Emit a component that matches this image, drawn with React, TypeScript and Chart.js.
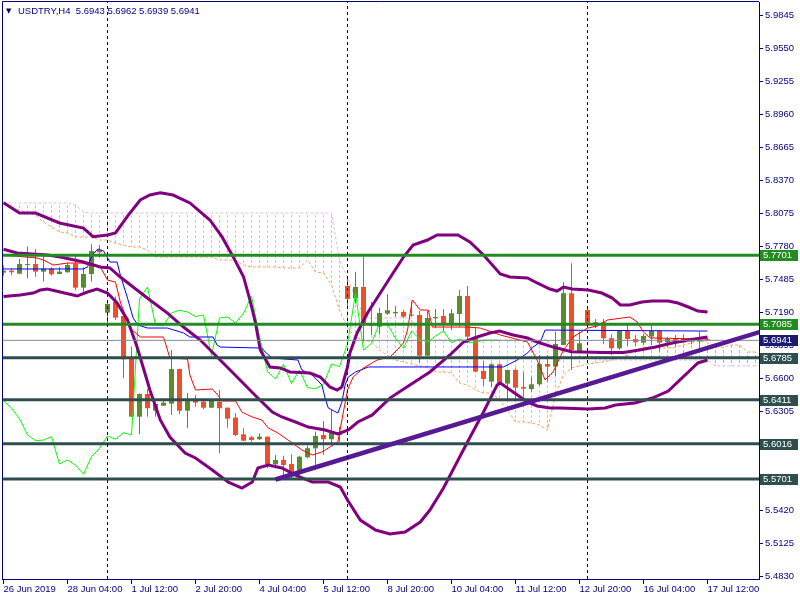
import React, { useEffect, useRef } from "react";
import { Chart, registerables } from "chart.js";

Chart.register(...registerables);

// ---------------- data ----------------
const symbolName = "USDTRY,H4";
const lastOHLC = ["5.6943", "5.6962", "5.6939", "5.6941"];

const openP = [5.7546,5.7564,5.7537,5.7615,5.7624,5.7555,5.7582,5.7534,5.7550,5.7627,
5.7412,5.7534,5.7749,5.7189,5.7284,5.7159,5.6781,5.6259,5.6462,5.6312,
5.6357,5.6375,5.6685,5.6312,5.6417,5.6393,5.6339,5.6393,5.6339,5.6250,
5.6101,5.6075,5.6057,5.6080,5.5833,5.5872,5.5836,5.5753,5.5896,5.5976,
5.6095,5.6057,5.6116,5.7427,5.7317,5.7418,5.7085,5.7063,5.7180,5.7183,
5.7195,5.7162,5.7168,5.6804,5.7138,5.7159,5.7085,5.7177,5.7338,5.6974,
5.6667,5.6572,5.6727,5.6554,5.6676,5.6524,5.6506,5.6548,5.6730,5.6706,
5.6900,5.7362,5.6846,5.7213,5.7103,5.7103,5.6960,5.6870,5.7025,5.6953,
5.6920,5.6974,5.7025,5.6924,5.6953,5.6953,5.6930,5.6930,5.6943];

const highP = [5.7609,5.7585,5.7669,5.7779,5.7758,5.7693,5.7594,5.7597,5.7639,5.7698,
5.7594,5.7800,5.7794,5.7302,5.7332,5.7165,5.6885,5.6465,5.6506,5.6375,
5.6414,5.6855,5.6688,5.6471,5.6453,5.6406,5.6414,5.6497,5.6341,5.6289,
5.6155,5.6086,5.6110,5.6082,5.5916,5.5910,5.5923,5.5910,5.5999,5.6125,
5.6220,5.6319,5.6169,5.7501,5.7555,5.7689,5.7284,5.7233,5.7353,5.7248,
5.7215,5.7287,5.7204,5.7204,5.7222,5.7222,5.7222,5.7391,5.7427,5.7063,
5.6757,5.6736,5.6736,5.6680,5.6691,5.6661,5.6616,5.6810,5.6810,5.7019,
5.7460,5.7630,5.7019,5.7242,5.7132,5.7132,5.6995,5.7034,5.7085,5.6989,
5.6998,5.7094,5.7034,5.6974,5.6989,5.6995,5.6965,5.7020,5.6962];

const lowP = [5.7519,5.7526,5.7534,5.7496,5.7510,5.7466,5.7519,5.7532,5.7546,5.7389,
5.7376,5.7466,5.7680,5.7063,5.7123,5.6602,5.6255,5.6101,5.6259,5.6259,
5.6355,5.6274,5.6280,5.6155,5.6348,5.6325,5.6337,5.5932,5.6160,5.6086,
5.6042,5.6035,5.6050,5.5797,5.5797,5.5693,5.5693,5.5738,5.5887,5.5827,
5.5916,5.6021,5.6035,5.7242,5.7272,5.6929,5.6989,5.6995,5.7168,5.7153,
5.7138,5.7153,5.6736,5.6800,5.7049,5.7019,5.7034,5.7063,5.6915,5.6658,
5.6536,5.6527,5.6540,5.6408,5.6408,5.6437,5.6482,5.6536,5.6572,5.6623,
5.6898,5.6676,5.6826,5.7049,5.7049,5.6906,5.6810,5.6855,5.6885,5.6885,
5.6900,5.6900,5.6840,5.6876,5.6885,5.6915,5.6906,5.6855,5.6939];

const closeP = [5.7564,5.7550,5.7624,5.7624,5.7555,5.7582,5.7532,5.7555,5.7615,5.7412,
5.7534,5.7740,5.7728,5.7266,5.7144,5.6772,5.6259,5.6462,5.6334,5.6372,
5.6384,5.6685,5.6312,5.6417,5.6384,5.6339,5.6402,5.6334,5.6241,5.6095,
5.6044,5.6050,5.6080,5.5836,5.5872,5.5827,5.5744,5.5901,5.5976,5.6086,
5.6057,5.6116,5.6095,5.7311,5.7418,5.7079,5.7070,5.7186,5.7210,5.7195,
5.7153,5.7168,5.6804,5.7141,5.7150,5.7094,5.7183,5.7338,5.6974,5.6661,
5.6596,5.6727,5.6554,5.6676,5.6518,5.6509,5.6548,5.6730,5.6706,5.6909,
5.7362,5.6855,5.6915,5.7094,5.7085,5.6960,5.6870,5.7025,5.6953,5.6924,
5.6980,5.7025,5.6920,5.6953,5.6924,5.6924,5.6942,5.6942,5.6941];

const xTickBars = [0, 8, 16, 24, 32, 40, 48, 56, 64, 72, 80, 88];
const xTickLabels = ["26 Jun 2019", "28 Jun 04:00", "1 Jul 12:00", "2 Jul 20:00", "4 Jul 04:00", "5 Jul 12:00",
  "8 Jul 20:00", "10 Jul 04:00", "11 Jul 12:00", "12 Jul 20:00", "16 Jul 04:00", "17 Jul 12:00"];
const yTickLabels = ["5.4830","5.5125","5.5420","5.5715","5.6010","5.6305","5.6600","5.6895","5.7190",
  "5.7485","5.7780","5.8075","5.8370","5.8665","5.8960","5.9255","5.9550","5.9845"];

// Ichimoku Senkou spans (already shifted forward), one value per bar up to the right edge
const spanA = [5.8169,5.8133,5.8106,5.8079,5.8061,5.7999,5.7954,5.7910,5.7901,5.7865,
5.7865,5.7865,5.7838,5.7838,5.7811,5.7793,5.7775,5.7775,5.7748,5.7686,
5.7686,5.7686,5.7686,5.7686,5.7686,5.7686,5.7686,5.7659,5.7659,5.7659,
5.7614,5.7597,5.7597,5.7597,5.7597,5.7588,5.7588,5.7588,5.7659,5.7552,
5.7543,5.7436,5.7212,5.7051,5.6971,5.6944,5.6926,5.6855,5.6801,5.6765,
5.6747,5.6730,5.6712,5.6703,5.6658,5.6658,5.6649,5.6560,5.6542,5.6497,
5.6470,5.6470,5.6408,5.6318,5.6211,5.6211,5.6202,5.6184,5.6140,5.6452,
5.6631,5.6694,5.6712,5.6730,5.6739,5.6747,5.6765,5.6783,5.6810,5.6855,
5.6881,5.6881,5.6872,5.6872,5.6881,5.6899,5.6917,5.6944,5.6917,5.6881,
5.6881,5.6899,5.6899,5.6837,5.6837];
const spanB = [5.8169,5.8169,5.8169,5.8169,5.8169,5.8169,5.8169,5.8169,5.8169,5.8151,
5.8088,5.8079,5.8079,5.8079,5.8079,5.8079,5.8079,5.8079,5.8079,5.8079,
5.8079,5.8079,5.8079,5.8079,5.8079,5.8079,5.8079,5.8079,5.8079,5.8079,
5.8079,5.8079,5.8079,5.8079,5.8079,5.8079,5.8079,5.8079,5.8079,5.8079,
5.8079,5.8079,5.7659,5.7498,5.7319,5.7168,5.7141,5.7141,5.7141,5.7141,
5.7141,5.7141,5.6944,5.6944,5.6944,5.6944,5.6944,5.6944,5.6944,5.6944,
5.6944,5.6944,5.6944,5.6944,5.6944,5.6944,5.6944,5.6944,5.6944,5.6837,
5.6837,5.6837,5.6837,5.6837,5.6765,5.6765,5.6765,5.6765,5.6765,5.6765,
5.6765,5.6765,5.6765,5.6765,5.6765,5.6765,5.6765,5.6765,5.6765,5.6712,
5.6712,5.6712,5.6712,5.6712,5.6712];
const chikouShift = 26;

const tenkan: [number, number][] = [[0,5.7704],[4.2,5.7677],[5,5.7659],[6.2,5.7614],[8,5.7632],[9.8,5.7632],
[10.8,5.7614],[12.1,5.7597],[13,5.7480],[14,5.7462],[14.6,5.7284],[15.8,5.7051],[17.1,5.6971],[20,5.6971],
[20.8,5.6783],[23,5.6774],[23.3,5.6631],[24,5.6497],[26.1,5.6506],[26.8,5.6452],[27.3,5.6399],[29,5.6399],
[29.8,5.6300],[31.1,5.6256],[32.3,5.6229],[33.1,5.6157],[34.3,5.6113],[36.1,5.6023],[37.3,5.5961],[38.6,5.5916],
[39.8,5.5943],[41.8,5.6032],[42.3,5.6229],[43,5.6497],[43.7,5.6613],[45,5.6694],[46.7,5.6765],[48.3,5.6792],
[49.2,5.6855],[50,5.6917],[50.5,5.7033],[51.1,5.7302],[52.1,5.7212],[53.1,5.7212],[53.6,5.7060],[57.9,5.7060],
[59.6,5.7051],[62.1,5.6989],[65.5,5.6926],[66.7,5.6765],[67.7,5.6587],[68.7,5.6658],[70,5.6855],[71.2,5.6971],
[73,5.7051],[74.2,5.7069],[75.5,5.7123],[78.3,5.7150],[79.2,5.7105],[80,5.7015],[80.8,5.6962],[88,5.6953]];

const kijun: [number, number][] = [[0,5.7579],[10,5.7579],[10.5,5.7597],[11.1,5.7704],[11.8,5.7758],[12.5,5.7740],
[13.3,5.7641],[14.2,5.7641],[14.6,5.7525],[15.5,5.7319],[16.2,5.7141],[16.8,5.7078],[18,5.7051],[20.5,5.7051],
[22.5,5.7007],[23.3,5.6971],[26.2,5.6971],[26.7,5.6899],[27.1,5.6881],[32.3,5.6872],[32.7,5.6837],[33.6,5.6783],
[36.8,5.6765],[37.3,5.6676],[38.6,5.6631],[39.8,5.6542],[40.2,5.6425],[40.6,5.6336],[41.8,5.6291],[42.3,5.6390],
[42.7,5.6542],[43.1,5.6613],[44,5.6658],[45.6,5.6703],[62.5,5.6703],[64.2,5.6765],[65.5,5.6828],[66.2,5.6881],
[67.1,5.6926],[67.7,5.7033],[88,5.7024]];

const bbUpper: [number, number][] = [[0,5.8171],[2,5.8079],[4,5.8079],[7,5.7990],[10,5.7945],[11.2,5.7868],[13,5.7883],
[14,5.7901],[15.6,5.8061],[17.1,5.8196],[18.3,5.8240],[19.6,5.8261],[21.2,5.8240],[23.3,5.8169],[25.8,5.8017],
[27.3,5.7868],[28.7,5.7689],[30,5.7510],[30.8,5.7302],[31.5,5.7096],[32.1,5.6855],[33.3,5.6703],[34.6,5.6694],
[35.8,5.6658],[38.3,5.6649],[39.6,5.6613],[40.8,5.6524],[41.7,5.6497],[42.3,5.6524],[43,5.6703],[43.3,5.6828],
[44.2,5.7007],[45.5,5.7185],[47.1,5.7364],[48.7,5.7543],[50,5.7686],[51.2,5.7793],[53,5.7838],[54.2,5.7883],
[56.8,5.7883],[58.3,5.7820],[60,5.7704],[62.1,5.7534],[63.3,5.7507],[65.5,5.7498],[66.7,5.7454],[68.3,5.7400],
[69.2,5.7382],[70,5.7418],[71.1,5.7400],[73.1,5.7391],[74.8,5.7364],[76.1,5.7319],[77.1,5.7257],[78.3,5.7257],
[79.8,5.7284],[81.1,5.7293],[83.1,5.7293],[84.3,5.7275],[85.6,5.7239],[86.8,5.7203],[88,5.7194]];

const bbMiddle: [number, number][] = [[0,5.7755],[1.7,5.7722],[5.5,5.7704],[7.1,5.7686],[10,5.7641],[12.1,5.7597],
[13.3,5.7588],[14.6,5.7507],[16.2,5.7418],[18.3,5.7302],[20.5,5.7185],[22.5,5.7060],[24.6,5.6944],[26.7,5.6792],
[28.7,5.6649],[30.8,5.6497],[31.8,5.6425],[33.6,5.6300],[34.8,5.6256],[36.5,5.6211],[38.1,5.6166],[40.2,5.6140],
[41.8,5.6104],[43.1,5.6140],[44.3,5.6211],[46.1,5.6274],[48.3,5.6425],[50.8,5.6542],[53.3,5.6658],[55.8,5.6810],
[57.5,5.6926],[59.2,5.6971],[60.8,5.7007],[62,5.7025],[63.7,5.6989],[65.5,5.6962],[66.7,5.6926],[68.7,5.6881],
[71,5.6840],[75,5.6832],[77.5,5.6832],[79.5,5.6855],[81.5,5.6881],[83.6,5.6917],[85.6,5.6944],[88,5.6971]];

const bbLower: [number, number][] = [[0,5.7333],[2.1,5.7346],[3.7,5.7364],[4.6,5.7391],[5.5,5.7400],[7.1,5.7373],
[9.2,5.7337],[10.5,5.7373],[11.7,5.7400],[13,5.7364],[14.2,5.7275],[15.5,5.7123],[16.7,5.6881],[18.3,5.6497],
[19.6,5.6229],[20.8,5.6077],[22.7,5.5934],[24,5.5889],[26.1,5.5782],[28.1,5.5674],[29.8,5.5621],[31.1,5.5674],
[31.8,5.5800],[33.1,5.5826],[34.8,5.5800],[36.5,5.5737],[38.6,5.5674],[40.6,5.5674],[42.1,5.5630],[43,5.5513],
[44.6,5.5334],[46.5,5.5245],[48.3,5.5210],[50.2,5.5227],[52.1,5.5317],[53.3,5.5424],[55,5.5621],[56.5,5.5826],
[58,5.6032],[60,5.6300],[61.7,5.6542],[62.1,5.6560],[63.7,5.6479],[65.5,5.6390],[66.7,5.6354],[68.3,5.6336],
[69.6,5.6336],[73.1,5.6327],[75.2,5.6336],[76.5,5.6363],[78.9,5.6381],[81.1,5.6425],[83.1,5.6488],[84.3,5.6569],
[85.6,5.6658],[86.8,5.6739],[88,5.6765]];

const levelValues = [5.7701, 5.7085, 5.6785, 5.6411, 5.6016, 5.5701];
const levelKinds = ["support", "support", "slate", "slate", "slate", "slate"];
const bidPrice = 5.6941;
const trendStart: [number, number] = [34, 5.5697];
const trendEnd: [number, number] = [94.5, 5.7015];
const separatorBars = [13, 43, 73];

// ---------------- style ----------------
const FONT = "'Liberation Sans', Arial, sans-serif";
const NAVY = "#000080";
const BULL = "#588c2f";
const BEAR = "#f04e28";
const GREEN_LVL = "#228b22";
const SLATE_LVL = "#2f4f4f";
const BID_BOX = "#1a1a6e";
const X_MIN = -0.1875;
const X_MAX = 94.4375;
const Y_MIN = 5.48075;
const Y_MAX = 5.99657;

const pts = (arr: [number, number][]) => arr.map(([x, y]) => ({ x, y }));

export default function App() {
  const ref = useRef<HTMLCanvasElement>(null);

  useEffect(() => {
    const canvas = ref.current!;
    const ctx2 = canvas.getContext("2d")!;
    const mkPattern = (color: string) => {
      const c = document.createElement("canvas");
      c.width = 1;
      c.height = 5;
      const g = c.getContext("2d")!;
      g.fillStyle = color;
      g.fillRect(0, 0, 1, 3);
      return ctx2.createPattern(c, "repeat")!;
    };
    const thistlePat = mkPattern("#d8bfd8");
    const sandyPat = mkPattern("#f4a460");

    const idx = closeP.map((_, i) => i);
    const candleColors = idx.map((i) => (closeP[i] >= openP[i] ? BULL : BEAR));
    const spanIdx = spanA.map((_, i) => i);
    const hatchDown = spanIdx.filter((i) => spanB[i] > spanA[i]).map((i) => ({ x: i, y: [spanA[i], spanB[i]] }));
    const hatchUp = spanIdx.filter((i) => spanA[i] > spanB[i]).map((i) => ({ x: i, y: [spanB[i], spanA[i]] }));
    const chikou = closeP.slice(chikouShift).map((c, i) => ({ x: i, y: c }));

    const lineBase = {
      type: "line" as const,
      pointRadius: 0,
      pointHoverRadius: 0,
      tension: 0,
      fill: false,
      spanGaps: false,
    };
    const barBase = {
      type: "bar" as const,
      grouped: false,
      inflateAmount: 0,
      borderWidth: 0,
    };

    const levelSets = levelValues.map((v, k) => ({
      ...lineBase,
      data: [{ x: X_MIN, y: v }, { x: X_MAX, y: v }],
      borderColor: levelKinds[k] === "support" ? GREEN_LVL : SLATE_LVL,
      borderWidth: 3,
      order: 3,
    }));

    const sepData: any[] = [];
    separatorBars.forEach((b) => {
      sepData.push({ x: b, y: Y_MIN }, { x: b, y: Y_MAX }, { x: b, y: null });
    });

    const boxes = [
      ...levelValues.map((v, k) => ({ v, color: levelKinds[k] === "support" ? GREEN_LVL : SLATE_LVL })),
      { v: bidPrice, color: BID_BOX },
    ];

    const overlay = {
      id: "overlay",
      afterDraw(chart: any) {
        const { ctx, chartArea: ca, scales } = chart;
        ctx.save();
        ctx.strokeStyle = NAVY;
        ctx.lineWidth = 1;
        ctx.beginPath();
        ctx.moveTo(ca.left + 0.5, ca.bottom);
        ctx.lineTo(ca.left + 0.5, ca.top - 0.5);
        ctx.lineTo(ca.right, ca.top - 0.5);
        ctx.stroke();

        ctx.font = `9.5px ${FONT}`;
        ctx.textBaseline = "middle";
        ctx.textAlign = "left";
        boxes.forEach(({ v, color }) => {
          const py = Math.round(scales.y.getPixelForValue(v));
          ctx.fillStyle = color;
          ctx.fillRect(ca.right + 1, py - 5, 38, 11);
          ctx.fillStyle = "#ffffff";
          ctx.fillText(v.toFixed(4), ca.right + 4, py + 0.5);
        });

        ctx.fillStyle = NAVY;
        ctx.font = `7px 'DejaVu Sans', sans-serif`;
        ctx.fillText("▼", 6, 11);
        ctx.font = `9.5px ${FONT}`;
        ctx.fillText(`${symbolName}  ${lastOHLC.join(" ")}`, 18, 11.5);
        ctx.restore();
      },
    };

    const chart = new Chart(canvas, {
      type: "bar",
      data: {
        datasets: [
          { ...lineBase, data: sepData, borderColor: NAVY, borderWidth: 1, borderDash: [3, 3], order: 1 },
          { ...lineBase, data: pts([trendStart, trendEnd]), borderColor: "#561a95", borderWidth: 4.5, order: 2 },
          ...levelSets,
          { ...lineBase, data: [{ x: X_MIN, y: bidPrice }, { x: X_MAX, y: bidPrice }], borderColor: "#7f8c99", borderWidth: 1, order: 4 },
          { ...lineBase, data: pts(bbUpper), borderColor: "#800080", borderWidth: 3, order: 5 },
          { ...lineBase, data: pts(bbMiddle), borderColor: "#800080", borderWidth: 3, order: 5 },
          { ...lineBase, data: pts(bbLower), borderColor: "#800080", borderWidth: 3, order: 5 },
          { ...lineBase, data: pts(tenkan), borderColor: "#ff0000", borderWidth: 1, order: 6 },
          { ...lineBase, data: pts(kijun), borderColor: "#0000ff", borderWidth: 1, order: 6 },
          { ...lineBase, data: chikou, borderColor: "#00ff00", borderWidth: 1, order: 6 },
          { ...barBase, data: idx.map((i) => ({ x: i, y: [openP[i], closeP[i]] })), backgroundColor: candleColors, barThickness: 5, minBarLength: 1, order: 7 },
          { ...barBase, data: idx.map((i) => ({ x: i, y: [lowP[i], highP[i]] })), backgroundColor: candleColors, barThickness: 1, order: 8 },
          { ...lineBase, data: spanA.map((v, i) => ({ x: i, y: v })), borderColor: "#f4a460", borderWidth: 1, borderDash: [3, 2], order: 9 },
          { ...lineBase, data: spanB.map((v, i) => ({ x: i, y: v })), borderColor: "#d8bfd8", borderWidth: 1, borderDash: [3, 2], order: 9 },
          { ...barBase, data: hatchDown, backgroundColor: thistlePat, barThickness: 1, order: 10 },
          { ...barBase, data: hatchUp, backgroundColor: sandyPat, barThickness: 1, order: 10 },
        ] as any,
      },
      options: {
        animation: false,
        responsive: false,
        maintainAspectRatio: false,
        devicePixelRatio: 1,
        events: [],
        layout: { padding: { left: 2, top: 2, right: 0, bottom: 0 }, autoPadding: false },
        plugins: { legend: { display: false }, tooltip: { enabled: false }, title: { display: false } },
        scales: {
          x: {
            type: "linear",
            min: X_MIN,
            max: X_MAX,
            offset: false,
            grid: { display: true, drawOnChartArea: false, drawTicks: true, tickLength: 5, color: NAVY, offset: false },
            border: { display: true, color: NAVY, width: 1 },
            ticks: {
              autoSkip: false,
              maxRotation: 0,
              minRotation: 0,
              align: "start",
              padding: 0,
              color: NAVY,
              font: { family: FONT, size: 9.5 },
              callback: (v: any) => {
                const k = xTickBars.indexOf(Number(v));
                return k >= 0 ? xTickLabels[k] : "";
              },
            },
            afterBuildTicks: (s: any) => {
              s.ticks = xTickBars.map((v) => ({ value: v }));
            },
            afterFit: (s: any) => {
              s.height = 21;
              s.paddingLeft = 0;
              s.paddingRight = 0;
            },
          },
          y: {
            type: "linear",
            position: "right",
            min: Y_MIN,
            max: Y_MAX,
            grid: { display: true, drawOnChartArea: false, drawTicks: true, tickLength: 4, color: NAVY },
            border: { display: true, color: NAVY, width: 1 },
            ticks: {
              autoSkip: false,
              padding: 2,
              color: NAVY,
              font: { family: FONT, size: 9.5 },
              callback: (v: any) => Number(v).toFixed(4),
            },
            afterBuildTicks: (s: any) => {
              s.ticks = yTickLabels.map((t) => ({ value: parseFloat(t) }));
            },
            afterFit: (s: any) => {
              s.width = 41;
              s.paddingTop = 0;
              s.paddingBottom = 0;
            },
          },
        },
      } as any,
      plugins: [overlay],
    });

    return () => chart.destroy();
  }, []);

  return (
    <div style={{ position: "absolute", left: 0, top: 0, width: 800, height: 600, background: "#ffffff" }}>
      <canvas ref={ref} width={800} height={600} style={{ display: "block", width: 800, height: 600 }} />
    </div>
  );
}
